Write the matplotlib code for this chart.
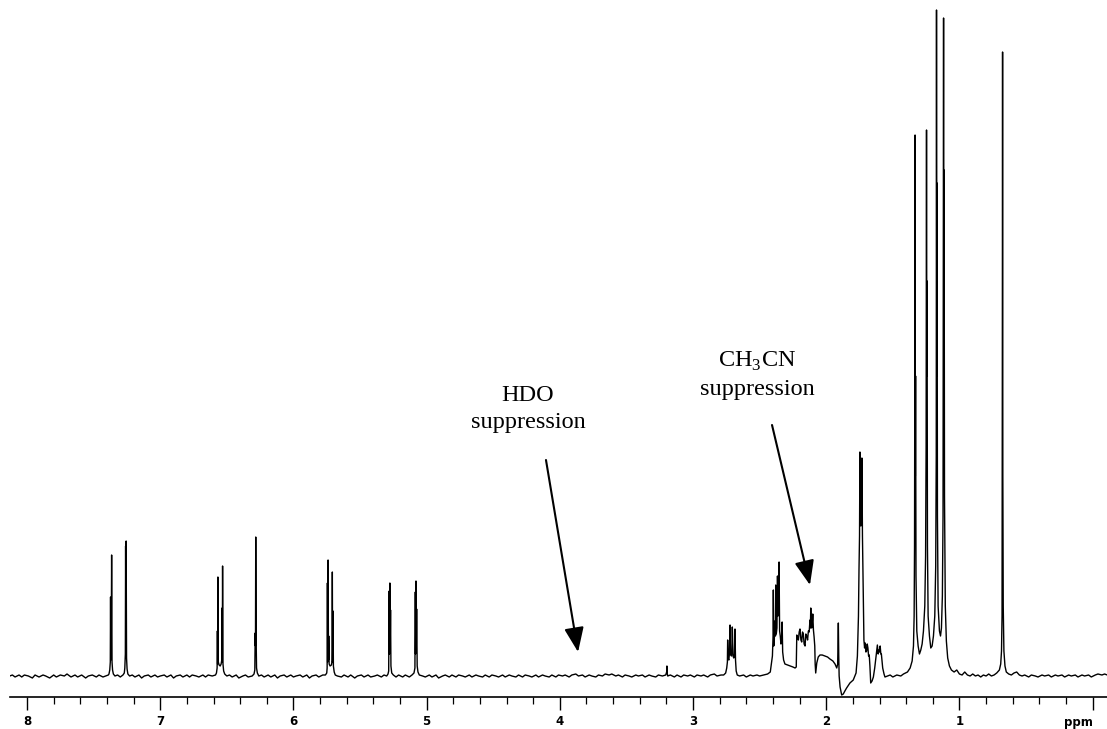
import matplotlib
matplotlib.use("Agg")
import matplotlib.pyplot as plt
import numpy as np

plt.rcParams['mathtext.fontset'] = 'custom'
plt.rcParams['mathtext.rm'] = 'Liberation Serif'

# traced spectrum: (chemical shift in ppm, intensity above baseline)
trace = [
    (8.13, 0), (8.11, 1), (8.09, -1), (8.06, 1), (8.04, -1), (8.02, 1), (7.99, 0), (7.96, -2),
    (7.94, 1), (7.91, -1), (7.88, 1), (7.86, 0), (7.83, -2), (7.80, 1), (7.78, -1), (7.75, 1),
    (7.72, 0), (7.70, 2), (7.67, -1), (7.64, 1), (7.62, -1), (7.59, 1), (7.56, -2), (7.54, 0),
    (7.51, 1), (7.48, -1), (7.46, 1), (7.43, -1), (7.41, 0), (7.39, 1),
    (7.385, 2), (7.379, 6), (7.375, 14), (7.373, 79), (7.371, 16), (7.368, 22), (7.365, 121),
    (7.362, 14), (7.358, 6), (7.352, 2), (7.34, 0), (7.32, 1), (7.30, -1), (7.28, 1), (7.27, 3),
    (7.266, 8), (7.262, 22), (7.260, 130), (7.258, 40), (7.256, 135), (7.253, 18), (7.249, 7),
    (7.243, 2), (7.23, 0),
    (7.21, 1), (7.19, -1), (7.16, 1), (7.14, -2), (7.12, 0), (7.09, 1), (7.07, -1), (7.04, 1),
    (7.02, -1), (7.00, 0), (6.97, 1), (6.95, -1), (6.92, 1), (6.90, -2), (6.88, 0), (6.85, 1),
    (6.83, -1), (6.80, 1), (6.78, -1), (6.76, 1), (6.73, 0), (6.71, -1), (6.68, 1), (6.66, -1),
    (6.64, 1), (6.61, 0), (6.585, 1),
    (6.578, 3), (6.573, 8), (6.571, 45), (6.569, 12), (6.567, 99), (6.564, 14), (6.558, 11),
    (6.55, 10), (6.543, 12), (6.538, 16), (6.536, 68), (6.534, 14), (6.532, 110), (6.529, 12),
    (6.524, 5), (6.516, 2), (6.50, 0),
    (6.48, 1), (6.46, -1), (6.43, 1), (6.41, -2), (6.38, 0), (6.36, 1), (6.34, -1), (6.31, 0),
    (6.296, 2), (6.29, 6), (6.287, 43),
    (6.285, 30), (6.283, 139), (6.280, 36), (6.277, 8), (6.271, 3), (6.26, 0),
    (6.24, 1), (6.22, -1), (6.19, 1), (6.17, -1), (6.14, 1), (6.12, -2), (6.10, 0), (6.07, 1),
    (6.05, -1), (6.02, 1), (6.00, -1), (5.98, 0), (5.95, 1), (5.93, -1), (5.90, 1), (5.88, -2),
    (5.86, 0), (5.83, 1), (5.81, -1), (5.78, 1), (5.76, 1),
    (5.75, 3), (5.747, 8), (5.745, 93), (5.743, 14), (5.740, 116), (5.737, 16), (5.735, 40),
    (5.732, 12), (5.725, 10), (5.715, 11), (5.710, 15), (5.708, 104), (5.706, 14), (5.703, 65),
    (5.700, 10), (5.694, 4), (5.686, 1),
    (5.67, 0), (5.64, -1), (5.62, 1), (5.59, -1), (5.57, 1), (5.54, -2), (5.52, 0), (5.49, 1),
    (5.47, -1), (5.44, 1), (5.42, -1), (5.39, 0), (5.37, 1), (5.34, -1), (5.32, 1), (5.30, 0),
    (5.29, 2),
    (5.285, 5), (5.281, 85), (5.279, 22), (5.276, 93), (5.274, 24), (5.271, 66), (5.268, 10),
    (5.262, 3), (5.25, 1),
    (5.23, -1), (5.21, 1), (5.18, -1), (5.16, 1), (5.13, -1), (5.11, 1), (5.095, 3), (5.088, 8),
    (5.085, 84), (5.083, 22),
    (5.080, 95), (5.078, 24), (5.075, 67), (5.071, 10), (5.065, 4), (5.055, 1),
    (5.03, 0), (5.01, -1), (4.98, 1), (4.96, -1), (4.93, 1), (4.91, -2), (4.88, 0), (4.86, 1),
    (4.83, -1), (4.81, 1), (4.78, -1), (4.76, 1), (4.73, 0), (4.71, -1), (4.68, 1), (4.66, -1),
    (4.63, 1), (4.61, 0), (4.58, -1), (4.56, 1), (4.53, -1), (4.51, 1), (4.48, 0), (4.46, -1),
    (4.43, 1), (4.41, -1), (4.38, 1), (4.36, 0), (4.33, -1), (4.31, 1), (4.28, -1), (4.26, 1),
    (4.23, 0), (4.21, -1), (4.18, 1), (4.16, -1), (4.13, 1), (4.11, 0), (4.08, -1), (4.06, 1),
    (4.03, -1), (4.01, 1), (3.98, 0), (3.96, 1), (3.93, -1), (3.91, 1), (3.88, 2), (3.86, 0),
    (3.83, 1), (3.81, -1), (3.78, 1), (3.76, 0), (3.73, -1), (3.71, 1), (3.68, 0), (3.66, 2),
    (3.63, 1), (3.61, 2), (3.58, 0), (3.56, 1), (3.53, -1), (3.51, 1), (3.48, 0), (3.46, -1),
    (3.43, 1), (3.41, 0), (3.38, 1), (3.36, -1), (3.33, 1), (3.31, 0), (3.28, -1), (3.26, 1),
    (3.23, 0), (3.205, 1), (3.198, 4), (3.196, 10), (3.194, 3), (3.19, 0),
    (3.17, 1), (3.14, -1), (3.12, 1), (3.09, -1), (3.07, 1), (3.04, 0), (3.02, 1), (2.99, -1),
    (2.97, 1), (2.94, 0), (2.92, 1), (2.89, -1), (2.87, 1), (2.84, 2), (2.82, 0), (2.79, 1),
    (2.77, 1),
    (2.755, 3), (2.747, 8), (2.742, 14), (2.740, 36), (2.737, 18), (2.731, 16), (2.727, 22),
    (2.722, 51), (2.718, 22), (2.712, 20), (2.708, 26), (2.705, 49), (2.700, 20), (2.694, 18),
    (2.689, 22), (2.685, 47), (2.681, 16), (2.676, 5), (2.668, 1),
    (2.65, 0), (2.62, 1), (2.60, -1), (2.57, 1), (2.55, 0), (2.52, 1), (2.50, 0), (2.47, 1),
    (2.44, 2), (2.42, 4),
    (2.41, 14), (2.404, 20), (2.399, 40), (2.397, 86), (2.394, 30), (2.390, 35), (2.386, 55),
    (2.381, 40), (2.379, 91), (2.375, 42), (2.370, 48), (2.366, 100), (2.362, 60), (2.357, 70),
    (2.354, 114), (2.350, 45), (2.345, 40), (2.340, 32), (2.335, 38), (2.331, 54), (2.327, 24),
    (2.320, 16), (2.310, 12), (2.29, 11), (2.27, 10), (2.25, 9), (2.234, 8),
    (2.225, 9), (2.221, 41), (2.215, 38), (2.209, 36), (2.203, 44), (2.197, 47), (2.190, 36),
    (2.184, 34), (2.178, 44), (2.172, 42), (2.166, 32), (2.159, 30), (2.153, 42), (2.147, 40),
    (2.140, 36), (2.134, 45), (2.128, 44), (2.122, 56), (2.119, 48), (2.116, 68), (2.112, 50),
    (2.109, 48), (2.104, 55), (2.101, 62), (2.096, 46), (2.091, 39), (2.086, 30), (2.083, 12),
    (2.079, 3),
    (2.071, 13), (2.060, 19), (2.047, 21), (2.030, 21), (2.009, 20), (1.990, 19), (1.972, 17),
    (1.950, 15), (1.934, 12), (1.921, 8), (1.914, 12), (1.911, 40), (1.909, 53), (1.906, 20),
    (1.903, 0), (1.896, -11), (1.884, -19), (1.872, -18), (1.860, -15), (1.847, -12),
    (1.822, -7), (1.797, -4), (1.776, 3), (1.766, 20), (1.758, 60), (1.754, 106), (1.750, 140),
    (1.747, 224), (1.744, 170), (1.740, 150), (1.736, 160), (1.732, 218), (1.728, 140),
    (1.724, 100), (1.720, 60), (1.717, 36), (1.712, 28), (1.707, 33), (1.702, 24), (1.697, 25),
    (1.692, 32), (1.687, 28), (1.682, 20), (1.677, 21), (1.672, 10), (1.666, -7), (1.656, -5),
    (1.646, -1), (1.636, 8), (1.626, 20), (1.621, 26), (1.616, 31), (1.610, 22), (1.605, 26),
    (1.600, 24), (1.595, 30), (1.590, 22), (1.586, 22), (1.580, 14), (1.576, 8), (1.566, 2),
    (1.559, -1),
    (1.54, 0), (1.52, 1), (1.50, -1), (1.47, 1), (1.44, 0), (1.42, 2), (1.39, 4), (1.37, 8),
    (1.355, 15), (1.345, 30),
    (1.340, 60), (1.337, 130), (1.335, 300), (1.333, 541), (1.331, 200), (1.329, 300),
    (1.326, 100), (1.320, 45), (1.31, 30), (1.30, 22), (1.29, 26), (1.28, 32), (1.27, 45),
    (1.26, 70), (1.254, 120), (1.250, 230), (1.247, 546), (1.245, 300), (1.243, 395),
    (1.240, 130), (1.235, 60), (1.225, 40), (1.215, 28), (1.205, 30), (1.195, 40), (1.185, 60),
    (1.178, 110), (1.174, 220), (1.172, 666), (1.170, 300), (1.168, 493), (1.165, 160),
    (1.160, 70), (1.150, 45), (1.142, 40), (1.135, 48), (1.128, 80), (1.123, 160), (1.119, 658),
    (1.117, 300), (1.115, 506), (1.112, 180), (1.106, 70), (1.098, 35), (1.088, 18),
    (1.075, 10), (1.06, 6), (1.04, 4), (1.02, 6), (1.00, 2), (0.98, 1), (0.96, 4), (0.94, 1),
    (0.92, 0), (0.90, 2), (0.88, 0), (0.86, 1), (0.84, -1), (0.82, 1), (0.80, 0), (0.78, 2),
    (0.76, 0), (0.74, 1), (0.72, 3), (0.70, 6), (0.690, 12), (0.684, 25), (0.680, 60),
    (0.678, 289), (0.676, 624), (0.674, 200), (0.671, 70), (0.666, 25), (0.658, 10),
    (0.648, 4), (0.63, 2), (0.61, 1), (0.59, 3), (0.57, 4), (0.55, 1), (0.53, 0), (0.51, 1),
    (0.48, -1), (0.46, 1), (0.43, 0), (0.41, -1), (0.38, 1), (0.36, 0), (0.33, 1), (0.31, -1),
    (0.28, 1), (0.26, 0), (0.23, 1), (0.21, -1), (0.18, 1), (0.16, 0), (0.13, 1), (0.11, -1),
    (0.08, 1), (0.06, 0), (0.03, 1), (0.01, -1), (-0.02, 1), (-0.04, 2), (-0.07, 1), (-0.09, 2),
    (-0.11, 1),
]
ppm = [p for p, _ in trace]
intensity = [v for _, v in trace]

major_ticks = [8, 7, 6, 5, 4, 3, 2, 1]
major_labels = ["8", "7", "6", "5", "4", "3", "2", "1"]
minor_ticks = [8.0, 7.8, 7.6, 7.4, 7.2, 7.0, 6.8, 6.6, 6.4, 6.2, 6.0, 5.8, 5.6, 5.4, 5.2,
               5.0, 4.8, 4.6, 4.4, 4.2, 4.0, 3.8, 3.6, 3.4, 3.2, 3.0, 2.8, 2.6, 2.4, 2.2,
               2.0, 1.8, 1.6, 1.4, 1.2, 1.0, 0.8, 0.6, 0.4, 0.2, 0.0]

annotations = [
    # label, text position (ppm, intensity), arrow tail, arrow tip
    ("HDO\nsuppression", (4.239, 267), (4.104, 216), (3.863, 24)),
    ("CH$_3$CN\nsuppression", (2.520, 301), (2.407, 251), (2.122, 91)),
]

fig = plt.figure(figsize=(11.07, 7.29), dpi=100)
ax = fig.add_axes([10 / 1107, 1 - 697 / 729, 1097 / 1107, 697 / 729])
ax.plot(ppm, intensity, color="black", lw=1.0)
ax.set_xlim(8.128, -0.108)
ax.set_ylim(-21, 676)

for s in ["top", "right", "left"]:
    ax.spines[s].set_visible(False)
ax.spines["bottom"].set_linewidth(1.2)
ax.set_yticks([])
ax.set_xticks(major_ticks + [0])
ax.set_xticklabels(major_labels + [""], fontsize=8.5, fontweight="bold", family="DejaVu Sans")
ax.set_xticks(minor_ticks, minor=True)
ax.tick_params(axis="x", which="major", length=9, width=1.0, direction="out", pad=4)
ax.tick_params(axis="x", which="minor", length=5, width=0.9, direction="out")
ax.text(0.0, -0.036, "ppm", transform=ax.get_xaxis_transform(), ha="right", va="center",
        fontsize=8.5, fontweight="bold", family="DejaVu Sans", clip_on=False)

for label, tpos, tail, tip in annotations:
    ax.text(tpos[0], tpos[1], label, ha="center", va="center", fontsize=17.5,
            family="Liberation Serif", linespacing=1.4)
    ax.annotate("", xy=tip, xytext=tail,
                arrowprops=dict(arrowstyle="-|>,head_length=1.5,head_width=0.6",
                                color="black", lw=1.5, shrinkA=0, shrinkB=0))

fig.savefig("out.png", dpi=100)
